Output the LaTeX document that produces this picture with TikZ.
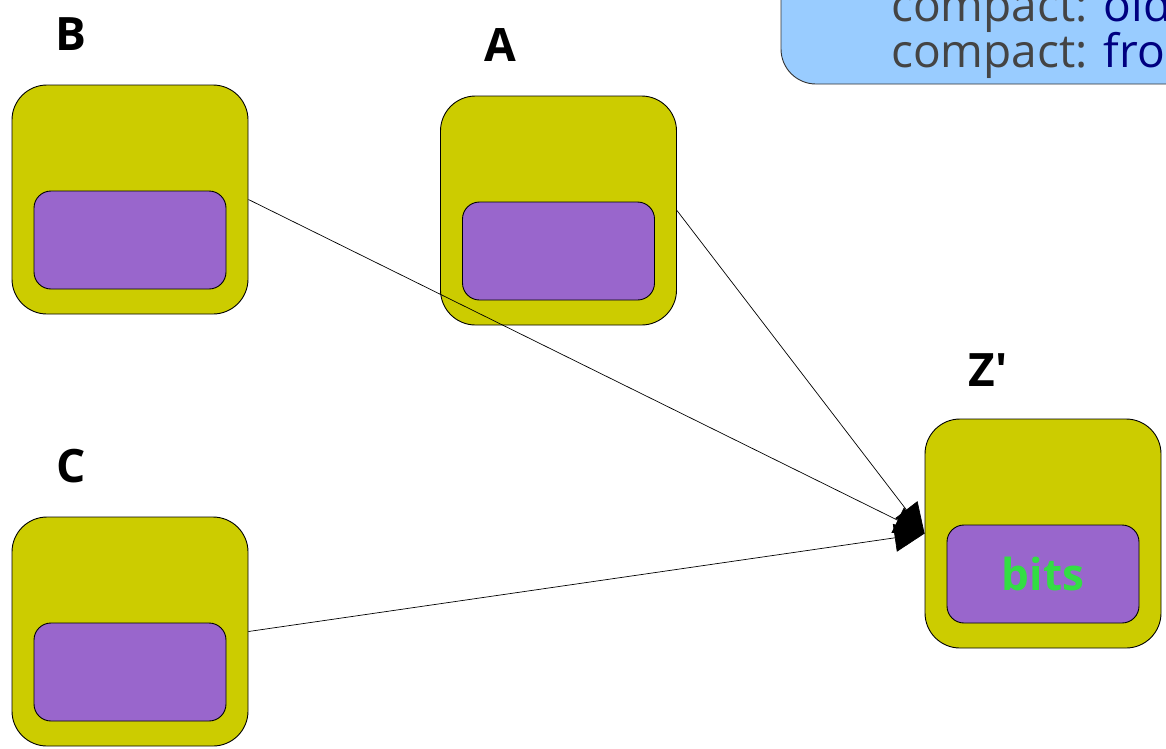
\documentclass[tikz,border=0pt]{standalone}
\usepackage{fontspec}
\setmainfont{Open Sans}
\usetikzlibrary{arrows.meta,positioning}

\definecolor{cellolive}{HTML}{CCCC00}
\definecolor{cellpurple}{HTML}{9966CC}
\definecolor{memoblue}{HTML}{99CCFF}
\definecolor{bitsgreen}{HTML}{33DD44}
\definecolor{memogray}{HTML}{444444}
\definecolor{memonavy}{HTML}{000080}

\begin{document}
\begin{tikzpicture}[x=1pt,y=-1pt,
  cell/.style={draw,line width=0.9pt,rounded corners=35pt,fill=cellolive,minimum width=236pt,
               minimum height=229pt,inner sep=0pt},
  slot/.style={draw,line width=0.9pt,rounded corners=17pt,fill=cellpurple,minimum width=192pt,
               minimum height=98pt,inner sep=0pt},
  tag/.style={font=\fontsize{46}{46}\selectfont\bfseries},
  memo/.style={draw=black!80,fill=memoblue,rounded corners=35pt,line width=0.9pt},
  memotxt/.style={font=\fontsize{46}{46}\selectfont,text=memogray,anchor=base west,inner sep=0pt},
  arr/.style={-{Triangle[length=30pt,width=28pt]},line width=0.7pt}
]
\useasboundingbox (0,0) rectangle (1166,748);

% memo box, runs off the page
\begin{scope}
\clip (0,0) rectangle (1166,748);
\draw[memo] (781,-120) rectangle (1600,84);
\node[memotxt] (m1) at (891,21) {compact: \textcolor{memonavy}{old}};
\node[memotxt] (m2) at (891,67) {compact: \textcolor{memonavy}{from}};
\end{scope}

% cells
\node[cell] (b) at (130,199.5) {};
\node[cell] (a) at (558.5,210.5) {};
\node[cell] (c) at (130,631.5) {};
\node[cell] (z) at (1043,533.5) {};

\node[slot,above=25pt of b.south] (bs) {};
\node[slot,above=25pt of a.south] (as) {};
\node[slot,above=25pt of c.south] (cs) {};
\node[slot,above=25pt of z.south,font=\fontsize{44}{44}\selectfont\bfseries,
      text=bitsgreen] (zs) {bits};

\node[tag] (bl) at (71,34) {B};
\node[tag] (al) at (500,45) {A};
\node[tag] (cl) at (71,466) {C};
\node[tag] (zl) at (988,370) {Z\textquotesingle};

\draw[arr] (b.east)--(z.west);
\draw[arr] (a.east)--(z.west);
\draw[arr] (c.east)--(z.west);
\end{tikzpicture}
\end{document}
